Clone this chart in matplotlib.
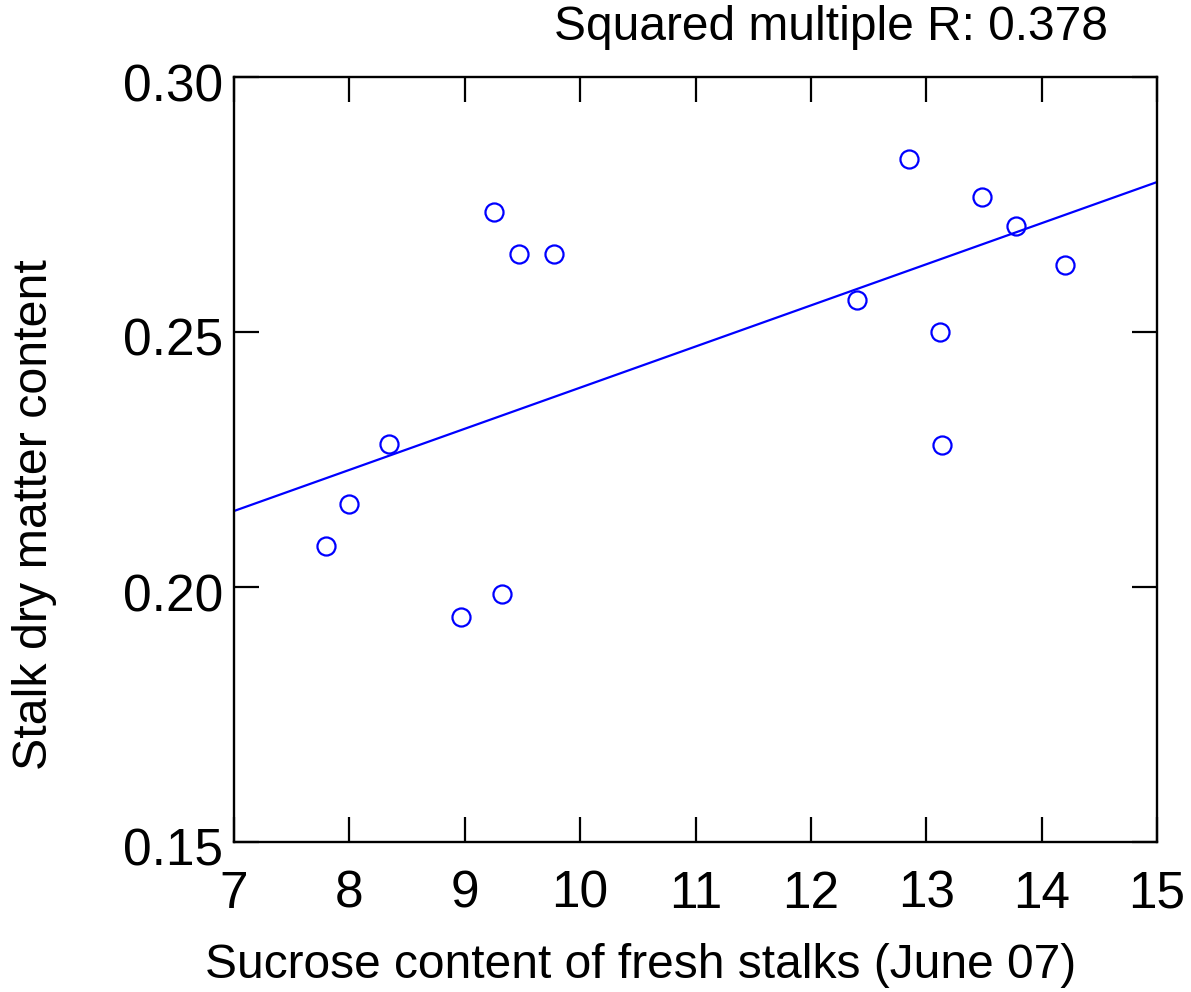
import matplotlib
matplotlib.use("Agg")
import matplotlib.pyplot as plt
import matplotlib.transforms as mtransforms
import numpy as np

# Data
sucrose = [7.80, 8.00, 8.34, 8.97, 9.32, 9.25, 9.47, 9.77, 12.40, 12.85, 13.12, 13.14, 13.48, 13.78, 14.20]
dry_matter = [0.208, 0.2163, 0.228, 0.1941, 0.1986, 0.2735, 0.2653, 0.2653, 0.2563, 0.2839, 0.250, 0.2278, 0.2765, 0.2708, 0.2631]
fit_x = [7.0, 15.0]
fit_y = [0.2149, 0.2794]
x_ticks = [7, 8, 9, 10, 11, 12, 13, 14, 15]
y_ticks = [0.15, 0.20, 0.25, 0.30]
y_tick_labels = ["0.15", "0.20", "0.25", "0.30"]
title = "Squared multiple R: 0.378"
xlabel = "Sucrose content of fresh stalks (June 07)"
ylabel = "Stalk dry matter content"

plt.rcParams['font.family'] = ['Liberation Sans', 'DejaVu Sans']

W, H = 1191, 992
fig = plt.figure(figsize=(W / 100, H / 100), dpi=100)
ax = fig.add_axes([234 / W, 1 - 842 / H, (1157 - 234) / W, (842 - 77) / H])

ax.plot(fit_x, fit_y, color='#0000ff', lw=1.6, zorder=2)
ax.plot(sucrose, dry_matter, linestyle='none', marker='o', markersize=13,
        markerfacecolor='none', markeredgecolor='#0000ff', markeredgewidth=1.6, zorder=3)

ax.set_xlim(7, 15)
ax.set_ylim(0.15, 0.30)
ax.set_xticks(x_ticks)
ax.set_xticklabels([str(t) for t in x_ticks])
ax.set_yticks(y_ticks)
ax.set_yticklabels(y_tick_labels)

for s in ax.spines.values():
    s.set_linewidth(1.7)
ax.tick_params(axis='both', direction='in', length=18, width=1.6,
               top=True, right=True, labelsize=37)
ax.tick_params(axis='x', pad=20)
ax.tick_params(axis='y', pad=8)
offset = mtransforms.ScaledTranslation(0, -5 / 100, fig.dpi_scale_trans)
for lab in ax.get_yticklabels():
    lab.set_transform(lab.get_transform() + offset)

fig.text(641 / W, 1 - 965 / H, xlabel, ha='center', va='center', fontsize=34.5)
fig.text(35 / W, 1 - 515 / H, ylabel, ha='center', va='center', rotation=90, fontsize=34.8)
fig.text(831 / W, 1 - 28 / H, title, ha='center', va='center', fontsize=34.5)

fig.savefig('out.png', dpi=100)
